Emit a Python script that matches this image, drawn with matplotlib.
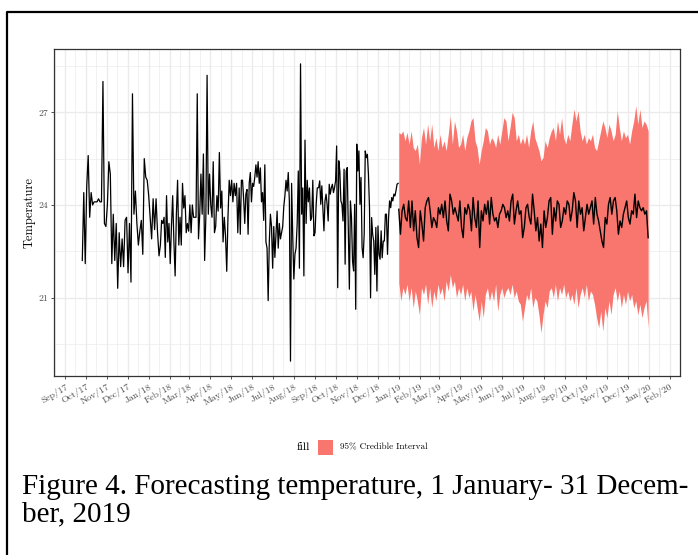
import matplotlib
matplotlib.use("Agg")
import matplotlib.pyplot as plt
import matplotlib.dates as mdates
from matplotlib.patches import Rectangle
from matplotlib.lines import Line2D
import pandas as pd
import numpy as np

# ---------------- data ----------------
# observed daily temperature, split in four stretches (start, end, values)
hist_seg1_span = ("2017-09-26", "2018-01-16")
hist_seg1 = [22.2, 24.4, 22.1, 24.6, 25.6, 23.6, 24.4, 24.0, 24.1, 24.1, 24.1, 24.2, 24.1, 24.1,
             28.0, 23.4, 23.3, 24.0, 25.4, 25.0, 22.1, 23.7, 22.2, 23.4, 21.3, 23.1, 22.0, 22.9,
             22.0, 23.5, 23.6, 21.8, 23.4, 21.5, 27.6, 23.7, 24.45, 23.4, 22.7, 23.15, 23.5, 22.4,
             25.5, 24.9, 24.8, 24.3, 23.6, 22.9, 24.2, 23.2, 24.2, 23.1, 22.35]
hist_seg2_span = ("2018-01-18", "2018-05-11")
hist_seg2 = [22.7, 23.5, 23.4, 23.6, 22.3, 24.3, 22.8, 23.4, 22.1, 23.3, 24.3, 22.8, 21.7, 23.7,
             24.8, 22.7, 23.6, 22.7, 24.7, 23.9, 24.3, 23.1, 23.4, 23.15, 24.0, 23.1, 24.0, 23.6,
             23.6, 23.6, 27.6, 22.9, 23.7, 25.0, 23.7, 25.65, 22.2, 23.6, 28.2, 23.7, 25.0, 24.0,
             23.6, 25.4, 23.1, 23.3, 24.3, 23.8, 25.7, 23.9, 24.45, 22.8, 23.6, 23.0, 21.85, 23.6,
             24.8, 24.3, 24.8, 24.1, 24.7, 24.3, 24.7, 23.1]
hist_seg3_span = ("2018-05-13", "2018-09-04")
hist_seg3 = [24.55, 23.05, 24.8, 24.8, 24.2, 23.4, 24.35, 24.5, 23.05, 24.7, 25.05, 24.1, 24.7,
             24.6, 24.9, 25.3, 24.9, 25.4, 24.7, 25.2, 24.1, 24.4, 23.5, 25.3, 22.8, 22.6, 20.9,
             22.8, 23.7, 23.3, 21.95, 23.3, 22.3, 23.05, 23.8, 22.6, 23.4, 22.9, 23.1, 23.3, 23.95,
             24.3, 24.8, 24.45, 25.05, 24.1, 18.94, 24.7, 23.0, 21.6, 22.4, 22.6, 23.4, 25.1, 21.95,
             28.57, 23.7, 24.55, 21.7, 26.1, 23.4, 24.8, 24.1, 24.55, 23.5, 23.6, 24.8, 23.0, 23.1,
             24.0, 24.55]
hist_seg4_span = ("2018-09-06", "2018-12-31")
hist_seg4 = [24.56, 24.78, 24.02, 24.62, 23.86, 23.16, 24.13, 24.35, 24.02, 23.48, 24.67, 24.35,
             24.56, 24.67, 24.40, 24.56, 24.78, 25.91, 21.32, 25.43, 25.10, 24.13, 24.02, 23.48,
             25.16, 22.08, 25.10, 25.21, 23.27, 21.27, 24.13, 23.59, 22.18, 21.86, 24.02, 20.62,
             25.97, 25.10, 25.75, 24.02, 24.89, 22.62, 22.29, 23.05, 25.75, 25.53, 25.64, 25.00,
             23.91, 20.99, 23.59, 23.05, 22.83, 21.75, 23.27, 21.21, 23.32, 22.40, 22.24, 23.16,
             22.29, 22.83, 22.83, 23.70, 23.70, 22.40, 23.59, 24.13, 23.91, 24.24, 24.13, 24.35,
             24.29, 24.46, 24.67, 24.70]

# forecast for 1 Jan - 31 Dec 2019
forecast_span = ("2019-01-01", "2019-12-31")
forecast_mean = [23.86, 23.05, 23.81, 24.02, 23.59, 23.48, 24.13, 23.27, 24.13, 23.16, 23.81, 22.94,
                 22.62, 23.81, 23.38, 22.83, 23.91, 24.13, 24.24, 23.81, 23.27, 23.59, 23.48, 23.27,
                 23.91, 23.70, 24.02, 23.59, 24.13, 23.48, 23.16, 24.35, 24.13, 23.70, 23.91, 23.70,
                 23.48, 24.13, 23.27, 22.94, 23.91, 23.70, 24.02, 23.81, 23.16, 24.24, 23.59, 23.27,
                 24.13, 22.62, 23.81, 23.48, 24.02, 23.70, 24.13, 23.38, 24.24, 23.70, 23.48, 23.59,
                 23.27, 23.70, 23.81, 24.02, 23.91, 23.59, 23.81, 23.48, 24.13, 24.35, 23.38, 23.81,
                 24.13, 23.70, 23.81, 22.94, 23.27, 23.91, 24.02, 23.59, 23.38, 24.35, 23.81, 23.16,
                 23.59, 22.83, 23.38, 22.62, 23.81, 23.27, 23.59, 24.13, 24.24, 23.05, 23.91, 23.48,
                 24.13, 24.02, 23.27, 23.48, 23.91, 23.70, 24.13, 24.02, 23.48, 23.81, 24.40, 24.13,
                 23.27, 24.13, 23.70, 23.91, 23.16, 23.59, 24.02, 23.70, 23.91, 24.13, 23.38, 24.24,
                 23.70, 23.48, 23.16, 22.83, 22.62, 23.59, 23.38, 24.02, 24.24, 23.70, 24.13, 24.24,
                 23.81, 23.05, 23.48, 23.27, 23.70, 23.91, 24.13, 23.59, 23.38, 23.81, 23.70, 24.35,
                 23.59, 24.13, 23.91, 23.81, 23.91, 23.70, 23.81, 22.94]
forecast_upper = [26.35, 26.29, 26.40, 26.08, 26.35, 25.97, 26.40, 25.86, 25.76, 25.97, 25.32, 26.18,
                  26.51, 25.97, 26.62, 26.08, 26.62, 25.86, 26.18, 25.76, 26.29, 25.86, 26.08, 25.76,
                  26.29, 26.89, 25.97, 26.72, 26.40, 25.86, 25.97, 26.29, 25.76, 26.18, 26.40, 26.72,
                  26.83, 26.08, 25.86, 25.32, 25.76, 26.08, 26.51, 26.40, 25.97, 26.18, 26.08, 25.86,
                  26.29, 25.97, 26.40, 26.83, 26.72, 26.08, 26.51, 27.00, 26.83, 26.08, 26.29, 25.97,
                  26.18, 25.97, 26.29, 25.86, 26.40, 26.72, 26.18, 25.97, 25.76, 25.43, 25.54, 26.08,
                  25.86, 26.18, 26.40, 26.51, 26.08, 26.72, 26.29, 26.83, 26.18, 25.97, 26.29, 26.08,
                  26.62, 27.10, 26.72, 27.05, 26.40, 26.08, 26.29, 25.97, 26.18, 26.08, 26.29, 25.86,
                  25.76, 26.08, 26.40, 26.72, 26.51, 26.18, 26.62, 26.40, 26.08, 26.29, 27.05, 26.51,
                  26.08, 26.40, 26.18, 26.29, 25.97, 26.40, 26.72, 27.21, 26.62, 27.10, 26.51, 26.72,
                  26.62, 26.40]
forecast_lower = [21.48, 20.89, 21.32, 21.10, 21.43, 20.89, 21.32, 20.67, 21.21, 20.89, 20.45, 21.32,
                  21.10, 21.43, 20.78, 21.32, 20.67, 21.21, 20.89, 21.43, 21.10, 21.32, 20.89, 21.53,
                  21.21, 21.75, 21.32, 21.53, 21.00, 21.32, 21.10, 21.43, 20.89, 21.32, 21.00, 21.21,
                  20.56, 21.10, 20.67, 20.24, 20.89, 20.35, 21.10, 21.32, 20.89, 21.21, 20.89, 21.43,
                  20.56, 21.10, 21.32, 21.00, 21.21, 21.32, 21.10, 21.43, 21.00, 21.21, 20.89, 20.78,
                  20.24, 20.67, 21.10, 20.89, 21.32, 20.67, 21.00, 20.89, 20.45, 19.86, 20.45, 20.89,
                  20.67, 21.21, 21.32, 21.00, 21.43, 20.89, 21.32, 21.10, 21.43, 21.00, 21.21, 20.89,
                  21.10, 20.78, 21.32, 20.67, 21.10, 21.32, 21.00, 21.43, 20.89, 21.21, 21.10, 20.78,
                  20.35, 20.02, 20.56, 19.91, 20.67, 20.35, 20.89, 20.45, 21.10, 21.32, 20.89, 21.21,
                  20.67, 21.10, 20.78, 21.21, 20.89, 21.10, 20.67, 20.89, 20.45, 20.78, 20.35, 20.67,
                  20.89, 20.02]

y_ticks = [21, 24, 27]
y_minor = [19.5, 22.5, 25.5, 28.5]
x_tick_range = ("2017-09-01", "2020-02-01")
x_label_fmt = "%b/%y"
y_label = "Temperature"
legend_title = "fill"
legend_label = "95% Credible Interval"
caption_lines = ["Figure 4. Forecasting temperature, 1 January- 31 Decem-", "ber, 2019"]

# ---------------- build series ----------------
segs = [(hist_seg1_span, hist_seg1), (hist_seg2_span, hist_seg2),
        (hist_seg3_span, hist_seg3), (hist_seg4_span, hist_seg4)]
hist_dates = pd.DatetimeIndex(np.concatenate(
    [pd.date_range(s[0], s[1], periods=len(v)).values for s, v in segs]))
hist_vals = np.concatenate([v for _, v in segs])
mean_dates = pd.date_range(*forecast_span, periods=len(forecast_mean))
band_dates = pd.date_range(*forecast_span, periods=len(forecast_upper))

# ---------------- style ----------------
SERIF = ["cmr10", "DejaVu Serif"]
plt.rcParams["font.family"] = SERIF
plt.rcParams["axes.formatter.use_mathtext"] = True
RIBBON = "#F8766D"

fig = plt.figure(figsize=(6.98, 5.55), dpi=100)
W, H = 698.0, 555.0
ax = fig.add_axes([54 / W, 1 - 376 / H, (680 - 54) / W, (376 - 49) / H])

ax.fill_between(band_dates, forecast_lower, forecast_upper, color=RIBBON, lw=0, zorder=2)
ax.plot(hist_dates, hist_vals, color="black", lw=0.9, zorder=3)
ax.plot(mean_dates, forecast_mean, color="black", lw=1.0, zorder=3)

# limits with ggplot-like 5% expansion
xmin = mdates.date2num(hist_dates[0]); xmax = mdates.date2num(mean_dates[-1])
dx = (xmax - xmin) * 0.05
ax.set_xlim(xmin - dx, xmax + dx)
ymin = min(hist_vals.min(), min(forecast_lower)); ymax = max(hist_vals.max(), max(forecast_upper))
dy = (ymax - ymin) * 0.05
ax.set_ylim(ymin - dy, ymax + dy)

months = pd.date_range(*x_tick_range, freq="MS")
ax.set_xticks(months)
ax.set_xticklabels([m.strftime(x_label_fmt) for m in months], rotation=30,
                   ha="right", va="top", rotation_mode="anchor", fontsize=7, color="#4D4D4D")
allm = pd.date_range("2017-08-01", "2020-03-01", freq="MS")
mids = [mdates.date2num(a) + (mdates.date2num(b) - mdates.date2num(a)) / 2 for a, b in zip(allm[:-1], allm[1:])]
ax.set_xticks(mids, minor=True)
ax.set_yticks(y_ticks)
ax.set_yticklabels([str(t) for t in y_ticks], fontsize=7, color="#4D4D4D")
ax.set_yticks(y_minor, minor=True)

ax.grid(which="major", color="#EBEBEB", lw=1.0, zorder=0)
ax.grid(which="minor", color="#EBEBEB", lw=0.5, zorder=0)
ax.set_axisbelow(True)
ax.tick_params(which="major", length=2.5, width=0.6, color="#333333", pad=2)
ax.tick_params(which="minor", length=0)
for s in ax.spines.values():
    s.set_color("#333333"); s.set_linewidth(0.9)

ax.set_ylabel(y_label, fontsize=9, labelpad=2)

# legend (title on the left, as in ggplot bottom legends)
fig.text(297 / W, 1 - 447 / H, legend_title, fontsize=8.5, ha="left", va="center")
fig.patches.append(Rectangle((318 / W, 1 - 455 / H), 15 / W, 15 / H, transform=fig.transFigure,
                             facecolor=RIBBON, edgecolor="none"))
fig.text(340 / W, 1 - 447 / H, legend_label, fontsize=6.6, ha="left", va="center")

# caption
fig.text(22 / W, 1 - 494 / H, caption_lines[0], fontsize=21, family="Liberation Serif",
         ha="left", va="baseline")
fig.text(22 / W, 1 - 521 / H, caption_lines[1], fontsize=21, family="Liberation Serif",
         ha="left", va="baseline")

# page frame (left and top edges visible)
fig.add_artist(Line2D([6.5 / W, 6.5 / W, 1.01], [-0.01, 1 - 12 / H, 1 - 12 / H],
                      transform=fig.transFigure, color="black", lw=1.6))

fig.savefig("out.png", dpi=100)
